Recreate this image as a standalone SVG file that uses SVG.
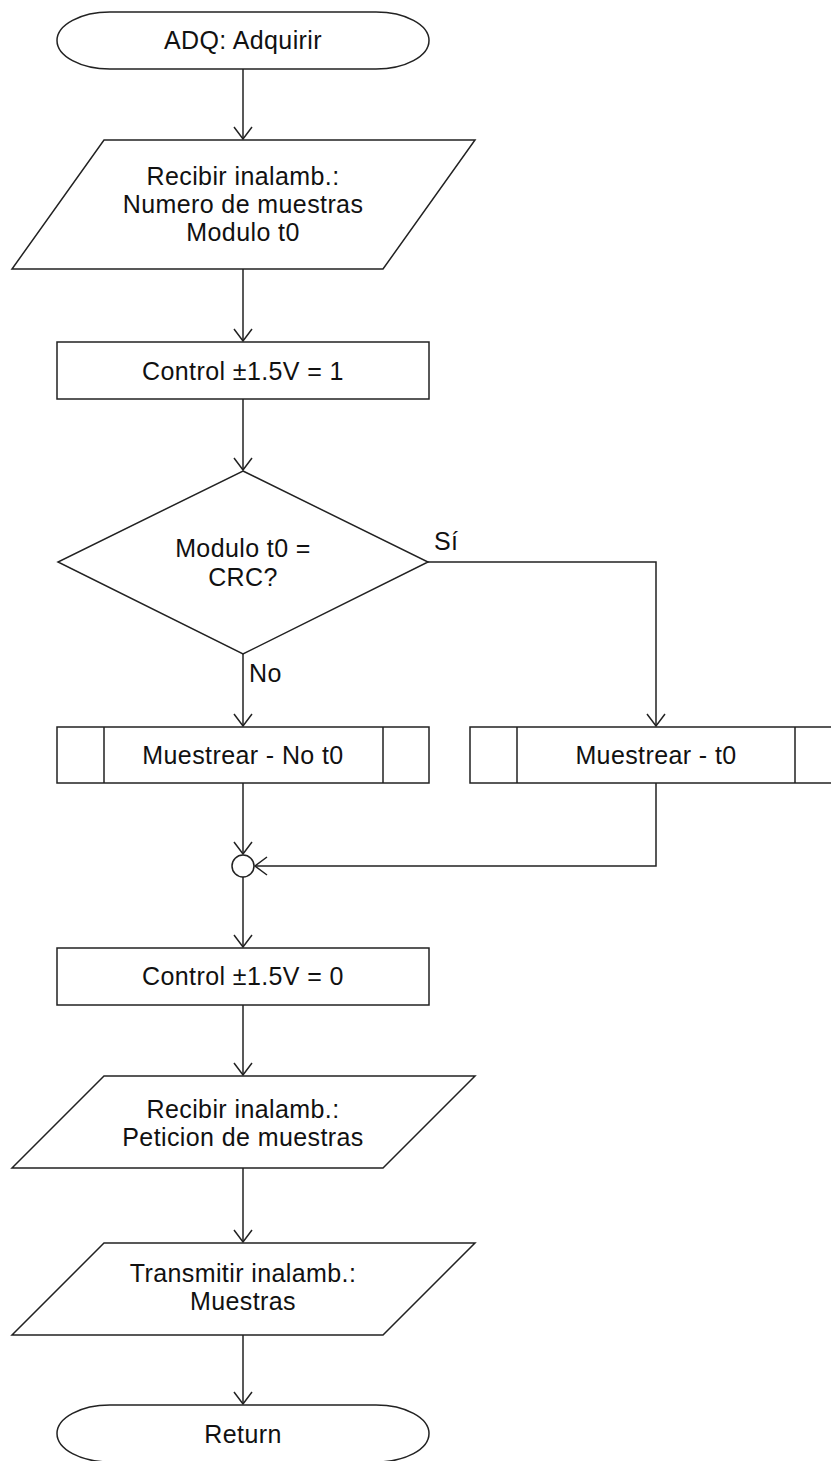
<svg xmlns="http://www.w3.org/2000/svg" width="831" height="1461" viewBox="0 0 831 1461">
<style>
.s{fill:#fff;stroke:#222;stroke-width:1.5}
.t{font-family:"Liberation Sans",Arial,sans-serif;font-size:25px;letter-spacing:0.4px;fill:#111;text-anchor:middle}
.l{font-family:"Liberation Sans",Arial,sans-serif;font-size:25px;letter-spacing:0.4px;fill:#111}
.c{fill:none;stroke:#222;stroke-width:1.5}
</style>
<defs>
<marker id="a" markerUnits="userSpaceOnUse" markerWidth="30" markerHeight="30" refX="0" refY="0" viewBox="-15 -15 30 30" orient="auto" overflow="visible">
<path d="M-12,-9 L0,0 L-12,9" fill="none" stroke="#222" stroke-width="1.5"/>
</marker>
</defs>
<rect width="831" height="1461" fill="#fff"/>
<g id="connectors">
<path class="c" d="M243,69 V139" marker-end="url(#a)"/>
<path class="c" d="M243,269 V341" marker-end="url(#a)"/>
<path class="c" d="M243,399 V470" marker-end="url(#a)"/>
<path class="c" d="M243,654 V726" marker-end="url(#a)"/>
<path class="c" d="M428,562 H656 V726" marker-end="url(#a)"/>
<path class="c" d="M243,783 V854" marker-end="url(#a)"/>
<path class="c" d="M656,783 V866 H255" marker-end="url(#a)"/>
<path class="c" d="M243,877 V947" marker-end="url(#a)"/>
<path class="c" d="M243,1005 V1075" marker-end="url(#a)"/>
<path class="c" d="M243,1168 V1242" marker-end="url(#a)"/>
<path class="c" d="M243,1335 V1404" marker-end="url(#a)"/>
<text class="l" x="434" y="550">Sí</text>
<text class="l" x="249" y="682">No</text>
</g>
<g id="start">
<path class="s" d="M110,12 H376 A53,28.5 0 0 1 376,69 H110 A53,28.5 0 0 1 110,12 Z"/>
<text class="t" x="243" y="49">ADQ: Adquirir</text>
</g>
<g id="input1">
<path class="s" d="M104,140 H475 L383,269 H12 Z"/>
<text class="t" x="243" y="185">Recibir inalamb.:</text>
<text class="t" x="243" y="213">Numero de muestras</text>
<text class="t" x="243" y="241">Modulo t0</text>
</g>
<g id="control1">
<rect class="s" x="57" y="342" width="372" height="57"/>
<text class="t" x="243" y="380">Control ±1.5V = 1</text>
</g>
<g id="decision">
<path class="s" d="M243,471 L428,562 L243,654 L58,562 Z"/>
<text class="t" x="243" y="557">Modulo t0 =</text>
<text class="t" x="243" y="586">CRC?</text>
</g>
<g id="sampleNoT0">
<rect class="s" x="57" y="727" width="372" height="56"/>
<path class="c" d="M104,727 V783 M383,727 V783"/>
<text class="t" x="243" y="764">Muestrear - No t0</text>
</g>
<g id="sampleT0">
<rect class="s" x="470" y="727" width="372" height="56"/>
<path class="c" d="M517,727 V783 M795,727 V783"/>
<text class="t" x="656" y="764">Muestrear - t0</text>
</g>
<g id="junction">
<circle class="s" cx="243" cy="866" r="11"/>
</g>
<g id="control0">
<rect class="s" x="57" y="948" width="372" height="57"/>
<text class="t" x="243" y="985">Control ±1.5V = 0</text>
</g>
<g id="input2">
<path class="s" d="M104,1076 H475 L383,1168 H12 Z"/>
<text class="t" x="243" y="1118">Recibir inalamb.:</text>
<text class="t" x="243" y="1146">Peticion de muestras</text>
</g>
<g id="output1">
<path class="s" d="M104,1243 H475 L383,1335 H12 Z"/>
<text class="t" x="243" y="1282">Transmitir inalamb.:</text>
<text class="t" x="243" y="1310">Muestras</text>
</g>
<g id="end">
<path class="s" d="M110,1405 H376 A53,28.5 0 0 1 376,1462 H110 A53,28.5 0 0 1 110,1405 Z"/>
<text class="t" x="243" y="1443">Return</text>
</g>
</svg>
